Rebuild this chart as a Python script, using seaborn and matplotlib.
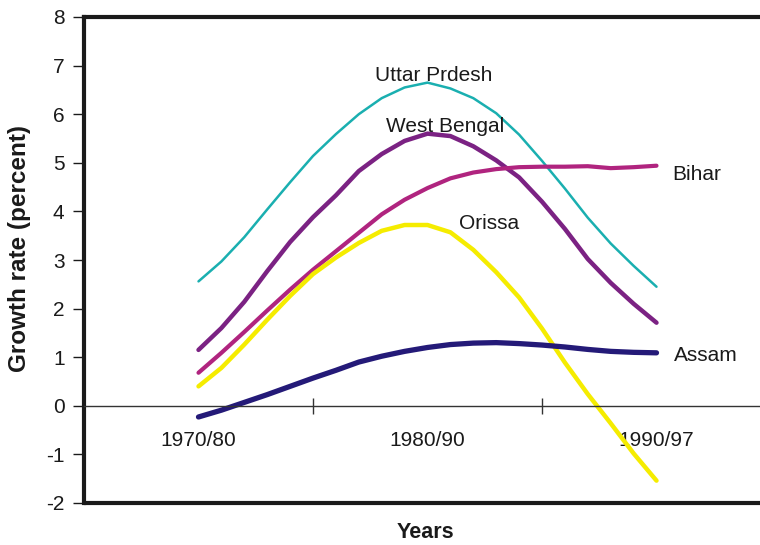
import matplotlib
matplotlib.use("Agg")
import matplotlib.pyplot as plt
import seaborn as sns
import pandas as pd

# Category labels on the x axis (positions 0, 1, 2)
categories = ["1970/80", "1980/90", "1990/97"]

# Curves at steps of 0.1 category units
x_pos = [0.0, 0.1, 0.2, 0.3, 0.4, 0.5, 0.6, 0.7, 0.8, 0.9, 1.0,
         1.1, 1.2, 1.3, 1.4, 1.5, 1.6, 1.7, 1.8, 1.9, 2.0]

uttar_pradesh = [2.56, 2.97, 3.47, 4.04, 4.60, 5.14, 5.59, 6.00, 6.33, 6.55, 6.65,
                 6.53, 6.33, 6.02, 5.58, 5.04, 4.47, 3.87, 3.34, 2.88, 2.45]
west_bengal = [1.15, 1.60, 2.14, 2.77, 3.37, 3.88, 4.33, 4.83, 5.18, 5.45, 5.60,
               5.55, 5.34, 5.05, 4.70, 4.20, 3.64, 3.02, 2.53, 2.10, 1.71]
bihar = [0.68, 1.09, 1.52, 1.96, 2.39, 2.80, 3.18, 3.56, 3.94, 4.24, 4.48,
         4.68, 4.80, 4.87, 4.91, 4.92, 4.92, 4.93, 4.89, 4.91, 4.94]
orissa = [0.40, 0.78, 1.26, 1.77, 2.26, 2.71, 3.05, 3.35, 3.60, 3.72, 3.72,
          3.57, 3.21, 2.75, 2.23, 1.59, 0.89, 0.24, -0.36, -0.98, -1.54]
assam = [-0.23, -0.09, 0.07, 0.23, 0.40, 0.57, 0.73, 0.90, 1.02, 1.12, 1.20,
         1.26, 1.29, 1.30, 1.28, 1.25, 1.21, 1.16, 1.12, 1.10, 1.09]

series = [
    ("Uttar Prdesh", uttar_pradesh, "#1aafb0", 1.8),
    ("West Bengal", west_bengal, "#7b2283", 3.2),
    ("Bihar", bihar, "#b0247f", 3.0),
    ("Orissa", orissa, "#f5ec00", 3.2),
    ("Assam", assam, "#241a78", 3.8),
]

sns.set_theme(style="white")
plt.rcParams["font.family"] = ["Liberation Sans", "DejaVu Sans"]

fig = plt.figure(figsize=(7.6, 5.45), dpi=100)
ax = fig.add_axes([84 / 760, 1 - 503 / 545, 3 * 229 / 760, (503 - 17) / 545])

for name, ys, col, lw in series:
    df = pd.DataFrame({"x": x_pos, "y": ys})
    sns.lineplot(data=df, x="x", y="y", ax=ax, color=col, linewidth=lw,
                 sort=False, estimator=None, solid_capstyle="round",
                 solid_joinstyle="round")

ax.set_xlim(-0.5, 2.5)
ax.set_ylim(-2, 8)

dark = "#1a1a1a"
for s in ["left", "top"]:
    ax.spines[s].set_linewidth(3)
    ax.spines[s].set_color(dark)
ax.spines["right"].set_visible(False)
ax.spines["bottom"].set_position(("data", 0))
ax.spines["bottom"].set_linewidth(1)
ax.spines["bottom"].set_color("#333333")
ax.axhline(-2, color=dark, linewidth=3, clip_on=False, zorder=5)

ax.set_yticks(range(-2, 9))
ax.set_yticklabels([str(v) for v in range(-2, 9)])
ax.tick_params(axis="y", direction="out", length=8, width=1, color=dark,
               left=True, labelsize=15, pad=6, labelcolor=dark)

ax.set_xticks([0.5, 1.5])
ax.set_xticklabels(["", ""])
ax.tick_params(axis="x", which="major", direction="inout", length=12, width=1,
               color="#333333", bottom=True)
ax.set_xticks([0, 1, 2], minor=True)
ax.set_xticklabels(categories, minor=True)
ax.tick_params(axis="x", which="minor", length=0, pad=18, labelsize=15,
               labelcolor=dark)

ax.set_xlabel("")
ax.set_ylabel("")
fig.text(20 / 760, 1 - 249 / 545, "Growth rate (percent)", rotation=90,
         ha="center", va="center", fontsize=17.5, fontweight="bold", color=dark)
fig.text(425 / 760, 1 - 533 / 545, "Years", ha="center", va="center",
         fontsize=15.5, fontweight="bold", color=dark)

label_pos = {"Uttar Prdesh": (1.026, 6.83, "center"),
             "West Bengal": (1.079, 5.78, "center"),
             "Bihar": (2.07, 4.81, "left"),
             "Orissa": (1.27, 3.79, "center"),
             "Assam": (2.075, 1.07, "left")}
for name, (x, y, ha) in label_pos.items():
    ax.text(x, y, name, ha=ha, va="center_baseline", fontsize=15, color=dark)

fig.savefig("out.png", dpi=100)
